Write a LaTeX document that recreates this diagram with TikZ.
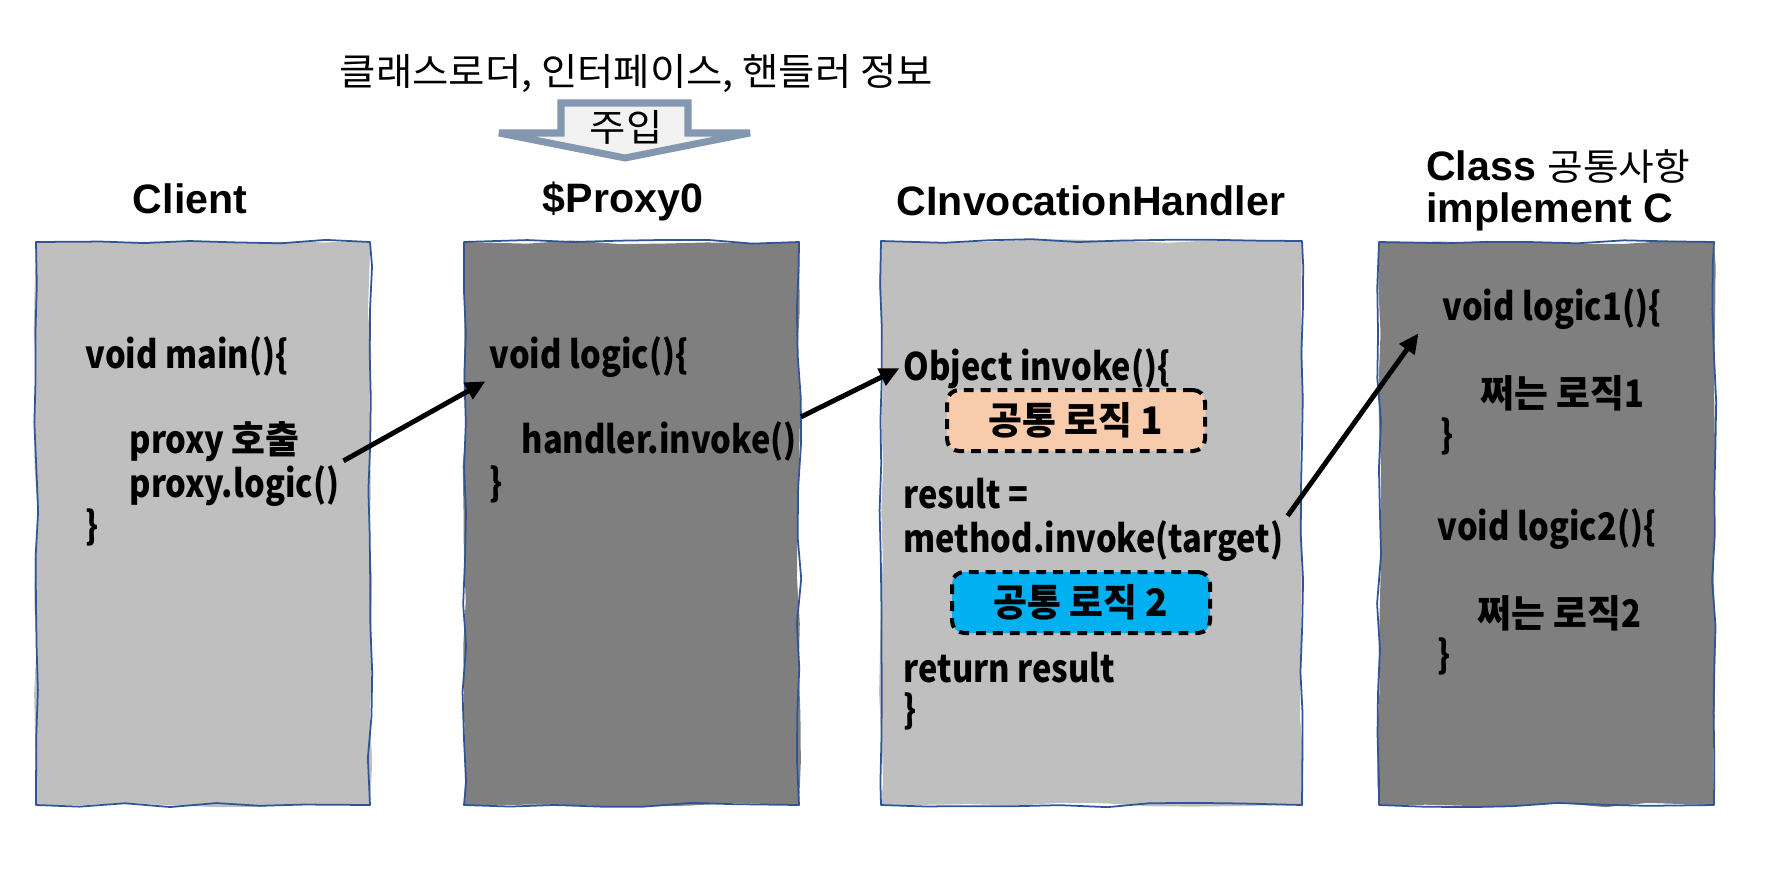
\documentclass[tikz,border=0pt]{standalone}
\usepackage{fontspec}
\setmainfont{Noto Sans CJK KR}
\newfontfamily\codelatin{Noto Sans CJK KR}[FakeStretch=0.86]
\newfontfamily\codekr{Noto Sans CJK KR}[FakeStretch=0.97]
\newfontfamily\notekr{Noto Sans CJK KR}[FakeStretch=1.05]
\newfontfamily\latinhead{Liberation Sans}
\usetikzlibrary{arrows.meta,decorations.pathmorphing}
\definecolor{sheetlight}{HTML}{BFBFBF}
\definecolor{sheetdark}{HTML}{7F7F7F}
\definecolor{sheetline}{HTML}{2F5597}
\definecolor{peach}{HTML}{F8CBAD}
\definecolor{skyblue}{HTML}{00B0F0}
\definecolor{injectline}{HTML}{8497B0}
\definecolor{injectfill}{HTML}{F2F2F2}
\newcommand\codefont{\codelatin\fontsize{10.8}{13}\selectfont\bfseries}
\newcommand\headfont{\latinhead\fontsize{11.7}{14}\selectfont\bfseries}
\newcommand\notefont{\notekr\fontsize{10.7}{12.8}\selectfont}
\tikzset{
  code/.style={anchor=base west,inner sep=1pt,font=\codefont},
  head/.style={anchor=base,inner sep=1pt,font=\headfont},
  rough/.style={decorate,decoration={random steps,segment length=0.45cm,amplitude=0.22mm}},
  sheetfill/.style={fill=#1,rough},
  sheetedge/.style={draw=sheetline,line width=0.5pt,line join=round,rough},
  common/.style={draw=black,fill=#1,line width=1.14pt,dash pattern=on 2.8pt off 2pt,rounded corners=0.12cm,minimum width=2.58cm,minimum height=0.61cm,inner sep=1pt,font=\codefont\codekr},
  callarrow/.style={-{Triangle[length=0.2cm,width=0.18cm]},line width=1.4pt}
}
\begin{document}
\begin{tikzpicture}
\pgfmathsetseed{17}
\useasboundingbox(0,0)rectangle(17.73,-8.89);
\node[anchor=base west,inner sep=0pt,font=\notefont](info)at(3.39,-0.85){클래스로더, 인터페이스, 핸들러 정보};
\draw[draw=injectline,fill=injectfill,line width=2pt](5.61,-1.03)--++(1.27,0)--++(0,-0.30)--++(0.62,0)--(6.25,-1.58)--(4.99,-1.33)--++(0.62,0)--cycle;
\node[anchor=base,inner sep=0pt,font=\notefont](inject)at(6.26,-1.41){주입};
\node[head](client)at(1.90,-2.13){Client};
\node[head](proxy)at(6.23,-2.12){\$Proxy0};
\node[head](handler)at(10.91,-2.15){CInvocationHandler};
\node[head,anchor=base west](target)at(14.22,-1.80){Class {\notekr\mdseries\fontsize{10.5}{12.6}\selectfont 공통사항}};
\node[head,anchor=base west](impl)at(14.22,-2.22){implement C};
\fill[sheetfill=sheetlight](0.36,-2.42)rectangle(3.70,-8.05);
\draw[sheetedge](0.36,-2.42)rectangle(3.70,-8.05);
\fill[sheetfill=sheetdark](4.64,-2.42)rectangle(7.99,-8.05);
\draw[sheetedge](4.64,-2.42)rectangle(7.99,-8.05);
\fill[sheetfill=sheetlight](8.81,-2.41)rectangle(13.02,-8.05);
\draw[sheetedge](8.81,-2.41)rectangle(13.02,-8.05);
\fill[sheetfill=sheetdark](13.79,-2.42)rectangle(17.14,-8.05);
\draw[sheetedge](13.79,-2.42)rectangle(17.14,-8.05);
\node[code](vmain)at(0.815,-3.68){void main()\{};
\node[code](pcall)at(1.255,-4.53){proxy {\codekr 호출}};
\node[code](plogic)at(1.255,-4.97){proxy.logic()};
\node[code](cend)at(0.815,-5.39){\}};
\node[code](vlogic)at(4.855,-3.68){void logic()\{};
\node[code](hinv)at(5.175,-4.53){handler.invoke()};
\node[code](pend)at(4.855,-4.96){\}};
\node[code](oinv)at(8.995,-3.80){Object invoke()\{};
\node[common=peach](commonA)at(10.76,-4.205){공통 로직 1};
\node[code](resl)at(8.995,-5.08){result =};
\node[code](minv)at(8.995,-5.52){method.invoke(target)};
\node[common=skyblue](commonB)at(10.81,-6.025){공통 로직 2};
\node[code](ret)at(8.995,-6.82){return result};
\node[code](iend)at(8.995,-7.23){\}};
\node[code](vone)at(14.385,-3.20){void logic1()\{};
\node[code](wone)at(14.765,-4.07){{\codekr 쩌는 로직}1};
\node[code](oneend)at(14.365,-4.48){\}};
\node[code](vtwo)at(14.335,-5.40){void logic2()\{};
\node[code](wtwo)at(14.735,-6.27){{\codekr 쩌는 로직}2};
\node[code](twoend)at(14.335,-6.68){\}};
\draw[callarrow](plogic.north east)--(vlogic.south west);
\draw[callarrow](hinv.north east)--(oinv.west);
\draw[callarrow](minv.north east)--([xshift=-0.2cm]vone.south west);
\end{tikzpicture}
\end{document}
